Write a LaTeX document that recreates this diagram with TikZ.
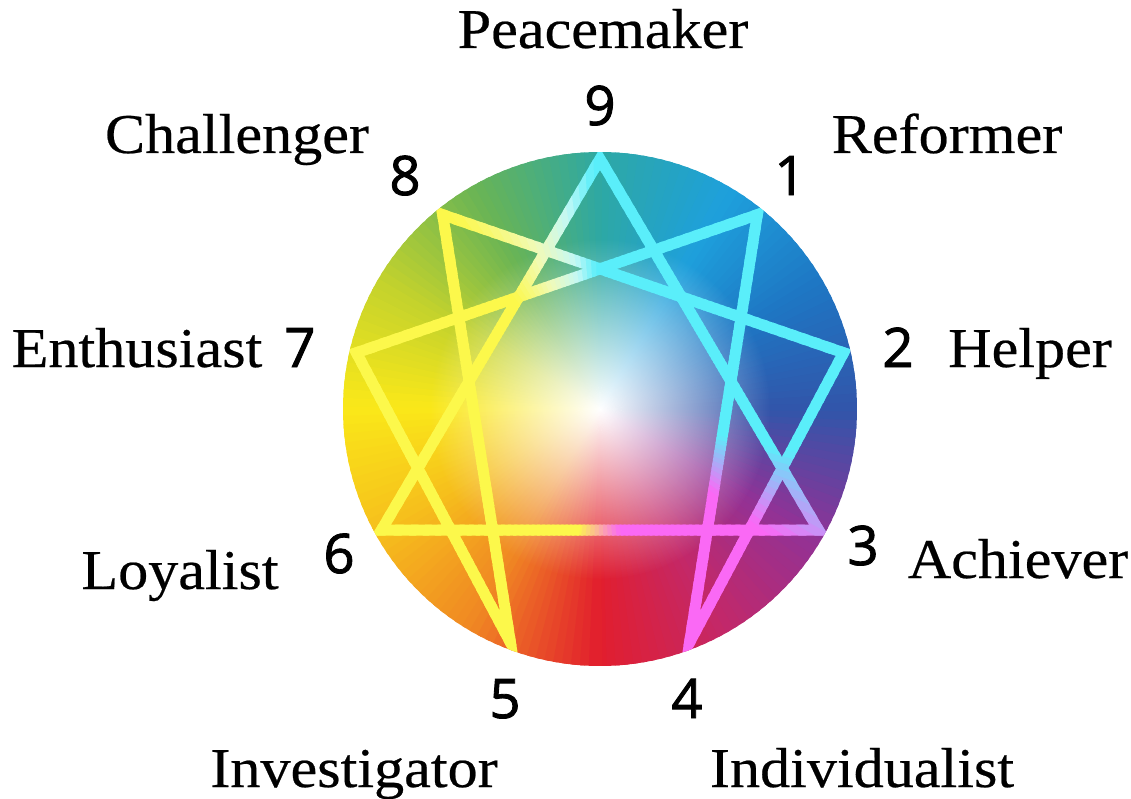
\documentclass[tikz,border=0pt]{standalone}
\usepackage{fontspec}
\setmainfont{Liberation Serif}[FakeStretch=1.07, FakeBold=0.4]
\newfontfamily\numfont{Open Sans}[FakeBold=1.6]
\usetikzlibrary{fadings}

% colour wheel, going round from the bottom
\definecolor{wheelA}{RGB}{226,30,45}
\definecolor{wheelB}{RGB}{195,40,105}
\definecolor{wheelC}{RGB}{145,50,150}
\definecolor{wheelD}{RGB}{50,85,170}
\definecolor{wheelE}{RGB}{30,118,195}
\definecolor{wheelF}{RGB}{30,160,220}
\definecolor{wheelG}{RGB}{45,168,165}
\definecolor{wheelH}{RGB}{105,180,85}
\definecolor{wheelI}{RGB}{195,210,45}
\definecolor{wheelJ}{RGB}{250,232,25}
\definecolor{wheelK}{RGB}{246,190,28}
\definecolor{wheelL}{RGB}{240,135,35}
% star lines
\definecolor{lineyellow}{RGB}{252,248,75}
\definecolor{linemagenta}{RGB}{250,105,245}
\definecolor{linecyan}{RGB}{90,238,250}
\definecolor{linepalecyan}{RGB}{195,248,245}
\definecolor{linepaleyellow}{RGB}{240,250,185}

\tikzfading[name=centrefade, inner color=transparent!0, outer color=transparent!100]

\begin{document}
\begin{tikzpicture}[x=0.02cm, y=0.02cm,
  every node/.style={inner sep=0pt},
  typename/.style={anchor=base, font=\fontsize{32}{32}\selectfont},
  typenum/.style={anchor=base, font=\numfont\fontsize{31}{31}\selectfont},
  star/.style={line width=0.22cm, line join=miter}]
\useasboundingbox (-600,-389) rectangle (531,409);
\coordinate (c) at (0,0);
\foreach \k/\ang in {1/51, 2/13, 3/-29, 4/-69, 5/-111, 6/-151, 7/167, 8/129, 9/90}
  \coordinate (p\k) at (\ang:250);

% colour wheel
\foreach \aa/\ca/\cb in {-90/wheelA/wheelB, -60/wheelB/wheelC, -30/wheelC/wheelD,
    0/wheelD/wheelE, 30/wheelE/wheelF, 60/wheelF/wheelG, 90/wheelG/wheelH,
    120/wheelH/wheelI, 150/wheelI/wheelJ, 180/wheelJ/wheelK, 210/wheelK/wheelL,
    240/wheelL/wheelA} {
  \foreach \t in {0,2,...,28} {
    \pgfmathsetmacro\p{100*(\t+1)/30}
    \colorlet{wedge}{\cb!\p!\ca}
    \fill[wedge] (c) -- ({\aa+\t-0.5}:257)
      arc[start angle={\aa+\t-0.5}, end angle={\aa+\t+2.5}, radius=257] -- cycle;
  }
}
\fill[white, path fading=centrefade] (c) circle[radius=170];

% enneagram
\foreach \aa/\ab/\ca/\cb in {-100/-80/lineyellow/linemagenta, -80/-36/linemagenta/linemagenta,
    -36/-12/linemagenta/linecyan, -12/92/linecyan/linecyan, 92/100/linecyan/linepalecyan,
    100/112/linepalecyan/linepaleyellow, 112/128/linepaleyellow/lineyellow,
    128/260/lineyellow/lineyellow} {
  \pgfmathtruncatemacro\n{\ab-\aa-2}
  \foreach \t in {0,2,...,\n} {
    \pgfmathsetmacro\p{100*(\t+1)/(\ab-\aa)}
    \colorlet{wedge}{\cb!\p!\ca}
    \begin{scope}
      \clip (c) -- ({\aa+\t-0.5}:257)
        arc[start angle={\aa+\t-0.5}, end angle={\aa+\t+2.5}, radius=257] -- cycle;
      \draw[star, wedge] (p9) -- (p3) -- (p6) -- cycle
        (p1) -- (p4) -- (p2) -- (p8) -- (p5) -- (p7) -- cycle;
    \end{scope}
  }
}

% numbers
\node[typenum] (n9) at (0,284) {9};
\node[typenum] (n1) at (190,214) {1};
\node[typenum] (n2) at (298,42) {2};
\node[typenum] (n3) at (263,-156) {3};
\node[typenum] (n4) at (87,-309) {4};
\node[typenum] (n5) at (-95,-309) {5};
\node[typenum] (n6) at (-261,-164) {6};
\node[typenum] (n7) at (-300,42) {7};
\node[typenum] (n8) at (-195,214) {8};

% type names
\node[typename] (peacemaker) at (3,361) {Peacemaker};
\node[typename] (reformer) at (347,256) {Reformer};
\node[typename] (helper) at (430,42) {Helper};
\node[typename] (achiever) at (418,-169) {Achiever};
\node[typename] (individualist) at (262,-378) {Individualist};
\node[typename] (investigator) at (-246,-378) {Investigator};
\node[typename] (loyalist) at (-420,-180) {Loyalist};
\node[typename] (enthusiast) at (-463,42) {Enthusiast};
\node[typename] (challenger) at (-363,256) {Challenger};
\end{tikzpicture}
\end{document}
